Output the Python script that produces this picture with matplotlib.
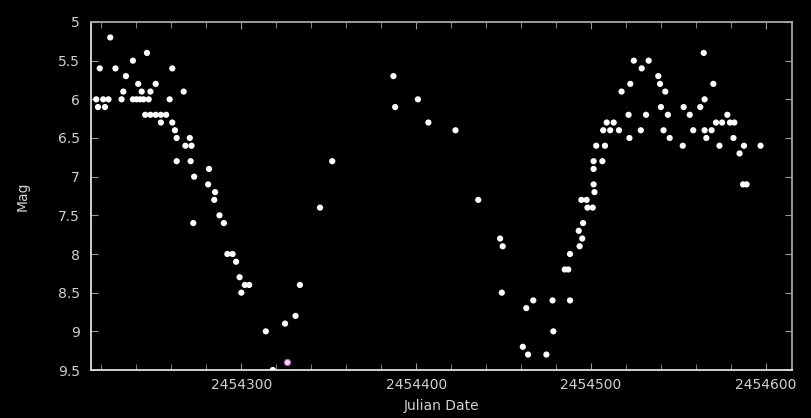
import matplotlib
matplotlib.use("Agg")
import matplotlib.pyplot as plt
from matplotlib.ticker import MultipleLocator, FixedLocator, FuncFormatter

# Julian Date offset from 2454000, and magnitude
jd_off = [
    225, 246, 238, 219, 228, 260.5, 234, 241, 251, 232.5, 243, 248, 267,
    217, 221, 224, 231.5, 238, 240, 242, 244, 247, 259, 218, 222,
    245, 248, 251, 254, 257, 254, 260.5, 262, 263, 270.5, 268, 271.5,
    263, 271, 281.5, 273, 281, 285, 284.5, 287.5, 272.5, 290,
    292, 295, 297, 299, 302, 304.5, 300, 314, 325, 331, 333.5, 318,
    345, 352,
    387, 388, 401, 407, 422.5, 435.5, 448, 449.5, 449, 461, 463, 464, 467,
    474.5, 478, 478.5, 485, 487, 488, 488, 493, 493.5, 495, 495.5, 494.5,
    497.5, 498, 501, 502, 501.5, 501.5, 501.5, 506.5, 503, 508, 507, 511,
    516, 509, 513, 517.5, 521.5, 522, 522.5, 524.5, 529, 533, 528.5, 531.5,
    538.5, 539.5, 542.5, 540, 544, 541.5, 545, 552.5, 553, 556.5, 558.5,
    562.5, 565, 564.5, 570, 565, 569, 566, 571.5, 575, 578, 579.5, 582,
    573.5, 581.5, 587.5, 585, 597, 587, 589,
]
mag = [
    5.2, 5.4, 5.5, 5.6, 5.6, 5.6, 5.7, 5.8, 5.8, 5.9, 5.9, 5.9, 5.9,
    6.0, 6.0, 6.0, 6.0, 6.0, 6.0, 6.0, 6.0, 6.0, 6.0, 6.1, 6.1,
    6.2, 6.2, 6.2, 6.2, 6.2, 6.3, 6.3, 6.4, 6.5, 6.5, 6.6, 6.6,
    6.8, 6.8, 6.9, 7.0, 7.1, 7.2, 7.3, 7.5, 7.6, 7.6,
    8.0, 8.0, 8.1, 8.3, 8.4, 8.4, 8.5, 9.0, 8.9, 8.8, 8.4, 9.5,
    7.4, 6.8,
    5.7, 6.1, 6.0, 6.3, 6.4, 7.3, 7.8, 7.9, 8.5, 9.2, 8.7, 9.3, 8.6,
    9.3, 8.6, 9.0, 8.2, 8.2, 8.6, 8.0, 7.7, 7.9, 7.8, 7.6, 7.3,
    7.3, 7.4, 7.4, 7.2, 7.1, 6.9, 6.8, 6.8, 6.6, 6.6, 6.4, 6.4,
    6.4, 6.3, 6.3, 5.9, 6.2, 6.5, 5.8, 5.5, 5.6, 5.5, 6.4, 6.2,
    5.7, 5.8, 5.9, 6.1, 6.2, 6.4, 6.5, 6.6, 6.1, 6.2, 6.4,
    6.1, 6.0, 5.4, 5.8, 6.4, 6.4, 6.5, 6.3, 6.3, 6.2, 6.3, 6.3,
    6.6, 6.5, 6.6, 6.7, 6.6, 7.1, 7.1,
]
# second (tinted) series
jd_off2 = [326]
mag2 = [9.4]

base = 2454000
jd = [base + v for v in jd_off]
jd2 = [base + v for v in jd_off2]

fig = plt.figure(figsize=(8.11, 4.18), dpi=100, facecolor="black")
ax = fig.add_axes([0.1122, 0.1148, 0.8644, 0.8326], facecolor="black")

ax.scatter(jd, mag, s=20, c="white", edgecolors="none", zorder=3)
ax.scatter(jd2, mag2, s=20, c="#f2d6f4", edgecolors="#b060c0", linewidths=0.8, zorder=3)

ax.set_xlim(2454214, 2454615)
ax.set_ylim(9.5, 5)

ax.xaxis.set_major_locator(FixedLocator([2454300, 2454400, 2454500, 2454600]))
ax.xaxis.set_minor_locator(MultipleLocator(20))
ax.xaxis.set_major_formatter(FuncFormatter(lambda v, p: "%d" % v))
ax.yaxis.set_major_locator(MultipleLocator(0.5))
ax.yaxis.set_major_formatter(FuncFormatter(lambda v, p: ("%g" % v)))

grey = "#d0d0d0"
for side in ["left", "bottom"]:
    ax.spines[side].set_color("#e0e0e0")
    ax.spines[side].set_linewidth(1.3)
for side in ["top", "right"]:
    ax.spines[side].set_color("#a8a8a8")
    ax.spines[side].set_linewidth(1.3)

ax.tick_params(which="both", direction="in", top=True, right=True,
               colors="#9a9a9a", labelcolor=grey, labelsize=10)
ax.tick_params(which="major", length=5)
ax.tick_params(which="minor", length=4)
ax.tick_params(axis="x", pad=6)
ax.tick_params(axis="y", pad=8)

ax.set_xlabel("Julian Date", color=grey, fontsize=10, labelpad=5)
ax.set_ylabel("Mag", color=grey, fontsize=10, labelpad=20)

fig.savefig("out.png", dpi=100, facecolor="black")
